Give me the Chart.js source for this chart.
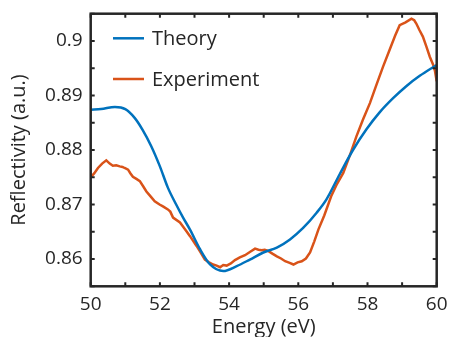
<!DOCTYPE html>
<html>
<head>
<meta charset="utf-8">
<script src="https://cdn.jsdelivr.net/npm/chart.js@4.4.0/dist/chart.umd.min.js"></script>
<style>
  html, body { margin: 0; padding: 0; background: #ffffff; }
  #wrap { width: 452px; height: 337px; }
</style>
</head>
<body>
<div id="wrap"><canvas id="c" width="452" height="337"></canvas></div>
<script>
// ---- Data ----
const theoryEnergy = [50.0, 50.3, 50.7, 51.0, 51.27, 51.5, 51.75, 52.0, 52.23, 52.47, 52.67, 52.87, 53.16, 53.45, 53.83, 54.22, 54.6, 54.99, 55.38, 55.76, 56.14, 56.53, 56.81, 57.2, 57.58, 57.97, 58.35, 58.74, 59.12, 59.51, 60.0];
const theoryRefl = [0.8874, 0.8875, 0.8879, 0.8875, 0.8859, 0.8837, 0.8807, 0.8770, 0.8731, 0.8700, 0.8676, 0.8654, 0.8618, 0.8590, 0.8578, 0.8587, 0.8599, 0.8612, 0.8621, 0.8636, 0.8657, 0.8685, 0.8709, 0.8756, 0.8800, 0.8838, 0.8869, 0.8895, 0.8917, 0.8936, 0.8956];

const expEnergy = [50.0, 50.1, 50.21, 50.33, 50.45, 50.55, 50.64, 50.74, 50.84, 50.92, 50.98, 51.08, 51.15, 51.22, 51.32, 51.42, 51.52, 51.61, 51.73, 51.85, 51.99, 52.1, 52.23, 52.3, 52.38, 52.58, 52.72, 52.87, 53.06, 53.18, 53.3, 53.42, 53.54, 53.64, 53.74, 53.83, 53.93, 54.05, 54.17, 54.31, 54.46, 54.6, 54.75, 54.85, 54.94, 55.03, 55.13, 55.25, 55.38, 55.5, 55.62, 55.75, 55.86, 55.98, 56.1, 56.22, 56.34, 56.46, 56.58, 56.75, 56.95, 57.12, 57.3, 57.5, 57.68, 57.87, 58.07, 58.25, 58.45, 58.64, 58.8, 58.93, 59.1, 59.27, 59.35, 59.41, 59.5, 59.6, 59.7, 59.8, 59.9, 59.95, 60.0];
const expRefl = [0.8750, 0.8757, 0.8767, 0.8775, 0.8781, 0.8775, 0.8771, 0.8772, 0.8770, 0.8769, 0.8767, 0.8764, 0.8757, 0.8751, 0.8747, 0.8743, 0.8733, 0.8724, 0.8715, 0.8706, 0.8700, 0.8696, 0.8691, 0.8687, 0.8676, 0.8667, 0.8655, 0.8642, 0.8624, 0.8612, 0.8599, 0.8594, 0.8590, 0.8588, 0.8585, 0.8589, 0.8588, 0.8592, 0.8598, 0.8603, 0.8607, 0.8613, 0.8619, 0.8617, 0.8616, 0.8617, 0.8615, 0.8610, 0.8605, 0.8601, 0.8596, 0.8593, 0.8590, 0.8594, 0.8596, 0.8601, 0.8612, 0.8632, 0.8654, 0.8680, 0.8715, 0.8738, 0.8758, 0.8792, 0.8825, 0.8856, 0.8886, 0.8918, 0.8953, 0.8984, 0.9010, 0.9029, 0.9034, 0.9041, 0.9038, 0.9032, 0.9020, 0.9008, 0.8990, 0.8971, 0.8956, 0.8945, 0.8926];

const seriesLabels = ['Theory', 'Experiment'];

const xTickValues = [50, 52, 54, 56, 58, 60];
const xTickLabels = ['50', '52', '54', '56', '58', '60'];
const xMinorTicks = [50, 51, 52, 53, 54, 55, 56, 57, 58, 59, 60];

const yTickValues = [0.86, 0.87, 0.88, 0.89, 0.90];
const yTickLabels = ['0.86', '0.87', '0.88', '0.89', '0.9'];
const yMinorTicks = [0.855, 0.86, 0.865, 0.87, 0.875, 0.88, 0.885, 0.89, 0.895, 0.9, 0.905];

const xRange = [50, 60];
const yRange = [0.855, 0.905];
const xTitle = 'Energy (eV)';
const yTitle = 'Reflectivity (a.u.)';

// ---- Styles ----
const INK = '#262626';
const FONT = '"Open Sans", "DejaVu Sans", sans-serif';
const colors = ['#0072BD', '#D95319'];

function toPoints(xs, ys) { return xs.map((x, i) => ({ x: x, y: ys[i] })); }

const framePlugin = {
  id: 'frameTicks',
  afterDatasetsDraw(chart) {
    const { ctx, chartArea: a, scales: { x, y } } = chart;
    const tl = 4;
    ctx.save();
    ctx.strokeStyle = INK;
    ctx.lineWidth = 2;
    ctx.beginPath();
    xMinorTicks.forEach(v => {
      const px = x.getPixelForValue(v);
      ctx.moveTo(px, a.bottom); ctx.lineTo(px, a.bottom - tl);
      ctx.moveTo(px, a.top); ctx.lineTo(px, a.top + tl);
    });
    yMinorTicks.forEach(v => {
      const py = y.getPixelForValue(v);
      ctx.moveTo(a.left, py); ctx.lineTo(a.left + tl, py);
      ctx.moveTo(a.right, py); ctx.lineTo(a.right - tl, py);
    });
    ctx.stroke();
    ctx.lineWidth = 2.5;
    ctx.strokeRect(a.left, a.top, a.right - a.left, a.bottom - a.top);
    ctx.restore();
  }
};

const legendPlugin = {
  id: 'innerLegend',
  afterDatasetsDraw(chart) {
    const { ctx, chartArea: a } = chart;
    ctx.save();
    ctx.font = '20px ' + FONT;
    ctx.textBaseline = 'alphabetic';
    ctx.textAlign = 'left';
    chart.data.datasets.forEach((ds, i) => {
      const ly = a.top + 24.6 + i * 40.7;
      ctx.strokeStyle = ds.borderColor;
      ctx.lineWidth = 2.5;
      ctx.beginPath();
      ctx.moveTo(a.left + 22.3, ly);
      ctx.lineTo(a.left + 53.3, ly);
      ctx.stroke();
      ctx.fillStyle = INK;
      ctx.fillText(ds.label, a.left + 61.3, ly + 7);
    });
    ctx.restore();
  }
};

function clearPads(s) { s.paddingLeft = 0; s.paddingRight = 0; s.paddingTop = 0; s.paddingBottom = 0; }

new Chart(document.getElementById('c'), {
  type: 'line',
  data: {
    datasets: [
      { label: seriesLabels[0], data: toPoints(theoryEnergy, theoryRefl), borderColor: colors[0], backgroundColor: colors[0], borderWidth: 2.5, pointRadius: 0, cubicInterpolationMode: 'monotone', fill: false },
      { label: seriesLabels[1], data: toPoints(expEnergy, expRefl), borderColor: colors[1], backgroundColor: colors[1], borderWidth: 2.5, pointRadius: 0, tension: 0, fill: false }
    ]
  },
  options: {
    responsive: false,
    devicePixelRatio: 1,
    animation: false,
    layout: { padding: { left: 0, right: 15.3, top: 13.7, bottom: 0 } },
    plugins: { legend: { display: false }, tooltip: { enabled: false }, title: { display: false } },
    scales: {
      x: {
        type: 'linear', min: xRange[0], max: xRange[1],
        grid: { display: false, drawTicks: false },
        border: { display: false },
        afterBuildTicks: s => { s.ticks = xTickValues.map(v => ({ value: v })); },
        afterFit: s => { s.height = 50.7; clearPads(s); },
        ticks: {
          padding: 7, color: INK, font: { family: FONT, size: 19 }, maxRotation: 0,
          callback: (v) => xTickLabels[xTickValues.indexOf(v)]
        },
        title: { display: true, text: xTitle, color: INK, font: { family: FONT, size: 20 }, padding: { top: 0, bottom: -2 } }
      },
      y: {
        type: 'linear', min: yRange[0], max: yRange[1],
        grid: { display: false, drawTicks: false },
        border: { display: false },
        afterBuildTicks: s => { s.ticks = yTickValues.map(v => ({ value: v })); },
        afterFit: s => { s.width = 90.7; clearPads(s); },
        ticks: {
          padding: 8, color: INK, font: { family: FONT, size: 19 },
          callback: (v) => { const i = yTickValues.findIndex(t => Math.abs(t - v) < 1e-9); return i >= 0 ? yTickLabels[i] : ''; }
        },
        title: { display: true, text: yTitle, color: INK, font: { family: FONT, size: 20 }, padding: { top: 7, bottom: 0 } }
      }
    }
  },
  plugins: [framePlugin, legendPlugin]
});
</script>
</body>
</html>
